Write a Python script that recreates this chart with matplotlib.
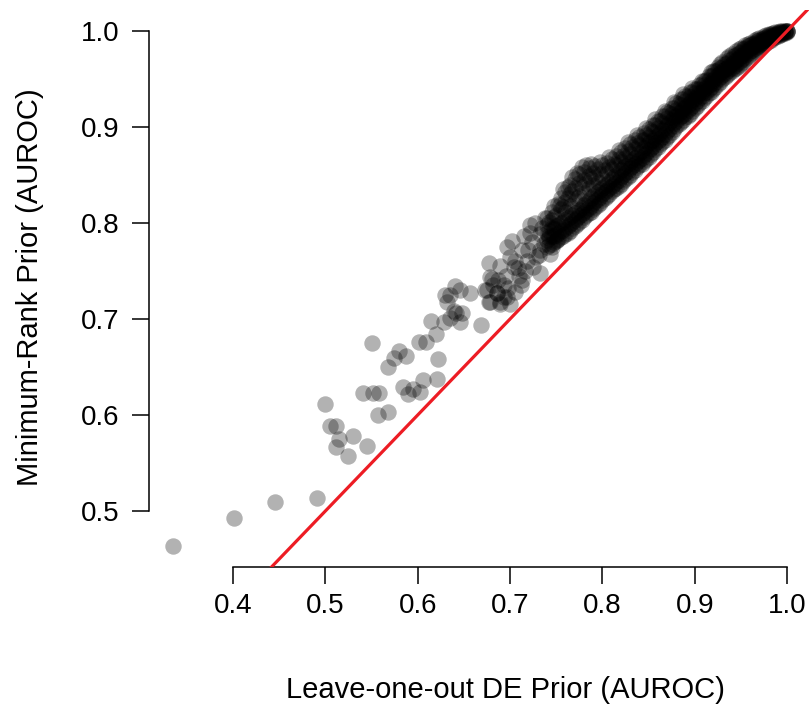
import matplotlib
matplotlib.use("Agg")
import matplotlib.pyplot as plt

plt.rcParams["font.family"] = ["Liberation Sans", "DejaVu Sans"]

# sparse tail of the cloud (read point by point)
sparse_x = [0.335, 0.401, 0.446, 0.491, 0.500, 0.505, 0.511, 0.515, 0.512, 0.530,
            0.524, 0.545, 0.551, 0.541, 0.552, 0.558, 0.557, 0.568, 0.568, 0.574,
            0.580, 0.587, 0.584, 0.590, 0.595, 0.603, 0.606, 0.621, 0.622, 0.601,
            0.609, 0.620, 0.614, 0.629, 0.640, 0.635, 0.630, 0.646, 0.657, 0.632,
            0.642, 0.639, 0.648, 0.646, 0.635, 0.669, 0.678, 0.687, 0.675, 0.686,
            0.693, 0.697, 0.678, 0.689, 0.677, 0.689, 0.680, 0.673, 0.682, 0.677,
            0.689, 0.693, 0.698, 0.700, 0.686, 0.713, 0.704, 0.700, 0.697, 0.702,
            0.715, 0.722, 0.727, 0.738, 0.733, 0.731, 0.725, 0.733, 0.718, 0.713,
            0.709, 0.733, 0.742, 0.743, 0.751, 0.754, 0.705, 0.710, 0.716, 0.720,
            0.724, 0.728, 0.735, 0.745, 0.748, 0.705, 0.712, 0.696, 0.722, 0.737]
sparse_y = [0.464, 0.493, 0.509, 0.514, 0.612, 0.589, 0.589, 0.575, 0.567, 0.578,
            0.557, 0.568, 0.675, 0.623, 0.623, 0.623, 0.600, 0.603, 0.650, 0.659,
            0.667, 0.661, 0.629, 0.622, 0.627, 0.624, 0.637, 0.638, 0.658, 0.676,
            0.676, 0.684, 0.698, 0.697, 0.734, 0.725, 0.725, 0.730, 0.727, 0.718,
            0.706, 0.708, 0.706, 0.697, 0.701, 0.694, 0.744, 0.741, 0.730, 0.727,
            0.735, 0.723, 0.718, 0.718, 0.758, 0.755, 0.742, 0.730, 0.735, 0.718,
            0.716, 0.723, 0.732, 0.716, 0.727, 0.741, 0.754, 0.765, 0.775, 0.781,
            0.786, 0.798, 0.800, 0.805, 0.789, 0.767, 0.754, 0.748, 0.760, 0.772,
            0.753, 0.772, 0.786, 0.768, 0.782, 0.819, 0.760, 0.745, 0.750, 0.772,
            0.780, 0.765, 0.795, 0.775, 0.795, 0.728, 0.735, 0.745, 0.790, 0.778]

# dense band: columns of DE-prior values with the min-rank values read at each
band_x = [0.740, 0.745, 0.750, 0.755, 0.760, 0.765, 0.770, 0.775, 0.780, 0.785,
          0.790, 0.795, 0.800, 0.805, 0.810, 0.815, 0.820, 0.825, 0.830, 0.835,
          0.840, 0.845, 0.850, 0.855, 0.860, 0.865, 0.870, 0.875, 0.880, 0.885,
          0.890, 0.895, 0.900, 0.905, 0.910, 0.915, 0.920, 0.925, 0.930, 0.935,
          0.940, 0.945, 0.950, 0.955, 0.960, 0.965, 0.970, 0.975, 0.980, 0.985,
          0.990, 0.995, 1.000]
band_y = [
    [0.775, 0.782, 0.790, 0.798, 0.805],
    [0.778, 0.786, 0.795, 0.803, 0.812],
    [0.781, 0.788, 0.797, 0.808],
    [0.785, 0.792, 0.800, 0.815, 0.826],
    [0.789, 0.795, 0.803, 0.812, 0.822, 0.832],
    [0.792, 0.799, 0.806, 0.818, 0.830, 0.840],
    [0.797, 0.803, 0.810, 0.823, 0.836, 0.846],
    [0.801, 0.807, 0.814, 0.828, 0.842, 0.851],
    [0.806, 0.812, 0.819, 0.831, 0.845, 0.853],
    [0.810, 0.816, 0.823, 0.836, 0.849, 0.857],
    [0.815, 0.821, 0.828, 0.840, 0.852],
    [0.819, 0.825, 0.832, 0.843, 0.856],
    [0.824, 0.830, 0.837, 0.847, 0.860],
    [0.828, 0.834, 0.841, 0.852, 0.863],
    [0.833, 0.839, 0.846, 0.856, 0.867],
    [0.837, 0.843, 0.850, 0.860, 0.870],
    [0.841, 0.848, 0.855, 0.864, 0.874],
    [0.846, 0.852, 0.859, 0.868, 0.878],
    [0.850, 0.857, 0.864, 0.872, 0.882],
    [0.855, 0.861, 0.868, 0.877, 0.886],
    [0.860, 0.866, 0.873, 0.881, 0.890],
    [0.865, 0.871, 0.878, 0.886, 0.894],
    [0.869, 0.876, 0.883, 0.890, 0.898],
    [0.874, 0.880, 0.887, 0.895, 0.902],
    [0.879, 0.885, 0.892, 0.899, 0.906],
    [0.884, 0.890, 0.897, 0.904, 0.911],
    [0.890, 0.896, 0.902, 0.909, 0.916],
    [0.895, 0.901, 0.907, 0.914, 0.920],
    [0.901, 0.906, 0.912, 0.918, 0.925],
    [0.905, 0.911, 0.917, 0.923, 0.929],
    [0.910, 0.915, 0.921, 0.927, 0.932],
    [0.914, 0.920, 0.925, 0.931, 0.936],
    [0.920, 0.925, 0.930, 0.935, 0.940],
    [0.925, 0.930, 0.935, 0.940, 0.944],
    [0.930, 0.935, 0.940, 0.944, 0.948],
    [0.935, 0.940, 0.944, 0.949, 0.953],
    [0.940, 0.945, 0.949, 0.954, 0.958],
    [0.945, 0.950, 0.954, 0.959, 0.963],
    [0.950, 0.954, 0.958, 0.963, 0.968],
    [0.954, 0.958, 0.962, 0.967, 0.972],
    [0.958, 0.962, 0.966, 0.971, 0.976],
    [0.962, 0.966, 0.970, 0.975, 0.979],
    [0.966, 0.970, 0.974, 0.978, 0.982],
    [0.971, 0.975, 0.978, 0.982, 0.985],
    [0.975, 0.979, 0.982, 0.985, 0.988],
    [0.979, 0.982, 0.985, 0.988, 0.991],
    [0.983, 0.986, 0.989, 0.991, 0.993],
    [0.986, 0.989, 0.991, 0.993, 0.995],
    [0.990, 0.992, 0.994, 0.996, 0.997],
    [0.993, 0.995, 0.996, 0.998],
    [0.995, 0.997, 0.998, 0.999],
    [0.997, 0.998, 0.999, 1.000],
    [1.000, 1.000, 1.000, 0.999],
]

# second set of columns lying between the first ones
band2_x = [0.7425, 0.7475, 0.7525, 0.7575, 0.7625, 0.7675, 0.7725, 0.7775, 0.7825,
           0.7875, 0.7925, 0.7975, 0.8025, 0.8075, 0.8125, 0.8175, 0.8225, 0.8275,
           0.8325, 0.8375, 0.8425, 0.8475, 0.8525, 0.8575, 0.8625, 0.8675, 0.8725,
           0.8775, 0.8825, 0.8875, 0.8925, 0.8975, 0.9025, 0.9075, 0.9125, 0.9175,
           0.9225, 0.9275, 0.9325, 0.9375, 0.9425, 0.9475, 0.9525, 0.9575, 0.9625,
           0.9675, 0.9725, 0.9775, 0.9825, 0.9875, 0.9925, 0.9975]
band2_y = [
    [0.777, 0.784, 0.792, 0.801],
    [0.780, 0.787, 0.794, 0.806, 0.818],
    [0.783, 0.790, 0.798, 0.820],
    [0.787, 0.793, 0.801, 0.817, 0.835],
    [0.790, 0.797, 0.805, 0.826, 0.838],
    [0.795, 0.801, 0.808, 0.833, 0.848],
    [0.799, 0.805, 0.812, 0.826, 0.852],
    [0.803, 0.809, 0.816, 0.838, 0.858],
    [0.808, 0.814, 0.821, 0.842, 0.860],
    [0.812, 0.818, 0.826, 0.846, 0.862],
    [0.817, 0.823, 0.830, 0.848, 0.859],
    [0.821, 0.827, 0.834, 0.851, 0.864],
    [0.826, 0.832, 0.839, 0.855],
    [0.830, 0.836, 0.843, 0.858, 0.869],
    [0.835, 0.841, 0.848, 0.862],
    [0.839, 0.845, 0.852, 0.867, 0.876],
    [0.844, 0.850, 0.857, 0.870],
    [0.848, 0.854, 0.861, 0.875, 0.884],
    [0.853, 0.859, 0.866, 0.879],
    [0.858, 0.864, 0.870, 0.883, 0.892],
    [0.862, 0.868, 0.875, 0.887],
    [0.867, 0.873, 0.880, 0.892, 0.899],
    [0.872, 0.878, 0.885, 0.896],
    [0.877, 0.883, 0.890, 0.902, 0.908],
    [0.882, 0.888, 0.894, 0.906],
    [0.887, 0.893, 0.899, 0.911, 0.917],
    [0.892, 0.898, 0.904, 0.915],
    [0.898, 0.904, 0.910, 0.920, 0.926],
    [0.903, 0.909, 0.915, 0.924],
    [0.907, 0.913, 0.919, 0.929, 0.934],
    [0.912, 0.918, 0.923, 0.932],
    [0.917, 0.922, 0.928, 0.937, 0.941],
    [0.922, 0.927, 0.932, 0.940],
    [0.927, 0.932, 0.937, 0.945, 0.948],
    [0.932, 0.937, 0.942, 0.949],
    [0.937, 0.942, 0.946, 0.953, 0.957],
    [0.942, 0.947, 0.951, 0.958],
    [0.947, 0.952, 0.956, 0.962, 0.966],
    [0.952, 0.956, 0.960, 0.966],
    [0.956, 0.960, 0.964, 0.970, 0.974],
    [0.960, 0.964, 0.968, 0.974],
    [0.964, 0.968, 0.972, 0.977, 0.981],
    [0.968, 0.972, 0.976, 0.981],
    [0.973, 0.977, 0.980, 0.984, 0.987],
    [0.977, 0.980, 0.983, 0.987],
    [0.981, 0.984, 0.987, 0.990, 0.992],
    [0.984, 0.987, 0.990, 0.992],
    [0.988, 0.990, 0.992, 0.994, 0.996],
    [0.991, 0.993, 0.995, 0.997],
    [0.994, 0.996, 0.997, 0.999],
    [0.996, 0.997, 0.999, 1.000],
    [0.998, 0.999, 1.000, 1.000],
]

x_ticks = [0.4, 0.5, 0.6, 0.7, 0.8, 0.9, 1.0]
y_ticks = [0.5, 0.6, 0.7, 0.8, 0.9, 1.0]

xs = list(sparse_x)
ys = list(sparse_y)
for cols_x, cols_y in ((band_x, band_y), (band2_x, band2_y)):
    for bx, col in zip(cols_x, cols_y):
        for by in col:
            xs.append(bx)
            ys.append(by)

W, H = 809, 711
fig = plt.figure(figsize=(W / 100, H / 100), dpi=100)
# plot region in pixels: left 149, right 809, top 10, bottom 567
ax = fig.add_axes([149 / W, (H - 567) / H, (809 - 149) / W, (567 - 10) / H])

ax.scatter(xs, ys, s=140, color="black", alpha=0.3, linewidths=0, zorder=2)
ax.axline((0, 0), slope=1, color="#ED1C24", lw=2.3, zorder=3)

ax.set_xlim(0.309, 1.0238)
ax.set_ylim(0.4417, 1.0219)

for side in ("top", "right"):
    ax.spines[side].set_visible(False)
ax.spines["left"].set_bounds(0.5, 1.0)
ax.spines["bottom"].set_bounds(0.4, 1.0)
for side in ("left", "bottom"):
    ax.spines[side].set_linewidth(1.1)

ax.set_xticks(x_ticks)
ax.set_yticks(y_ticks)
ax.set_xticklabels([f"{v:.1f}" for v in x_ticks])
ax.set_yticklabels([f"{v:.1f}" for v in y_ticks])
ax.tick_params(axis="both", direction="out", length=12, width=1.1,
               labelsize=20)
ax.tick_params(axis="y", pad=9)
ax.tick_params(axis="x", pad=7)

fig.text(505 / W, 1 - 690 / H, "Leave-one-out DE Prior (AUROC)",
         ha="center", va="center", fontsize=21)
fig.text(30 / W, 1 - 287 / H, "Minimum-Rank Prior (AUROC)",
         ha="center", va="center", rotation=90, fontsize=21)

fig.savefig("out.png", dpi=100)
